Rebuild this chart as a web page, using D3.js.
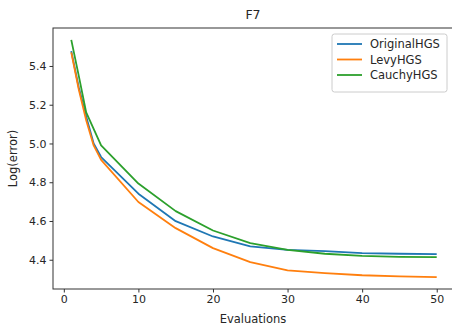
<!DOCTYPE html>
<html>
<head>
<meta charset="utf-8">
<script src="https://cdn.jsdelivr.net/npm/d3@7"></script>
<style>
  body { margin: 0; background: #fff; }
  svg { font-family: "DejaVu Sans", sans-serif; }
</style>
</head>
<body>
<div id="vis"></div>
<script>
const evals = [1, 2, 3, 4, 5, 10, 15, 20, 25, 30, 35, 40, 45, 50];
const originalHGS = [5.477, 5.29, 5.14, 5.0, 4.93, 4.741, 4.599, 4.52, 4.469, 4.451, 4.444, 4.434, 4.431, 4.429];
const levyHGS     = [5.47, 5.28, 5.12, 4.99, 4.915, 4.698, 4.563, 4.46, 4.388, 4.345, 4.331, 4.32, 4.314, 4.31];
const cauchyHGS   = [5.535, 5.35, 5.16, 5.075, 4.99, 4.793, 4.651, 4.551, 4.486, 4.451, 4.431, 4.42, 4.415, 4.413];
const seriesNames = ["OriginalHGS", "LevyHGS", "CauchyHGS"];
const colors = ["#1f77b4", "#ff7f0e", "#2ca02c"];
const xTicks = [0, 10, 20, 30, 40, 50];
const yTicks = [4.4, 4.6, 4.8, 5.0, 5.2, 5.4];

const series = [originalHGS, levyHGS, cauchyHGS].map((vals, i) => ({
  name: seriesNames[i],
  color: colors[i],
  values: evals.map((e, j) => ({ x: e, y: vals[j] }))
}));

const W = 452, H = 328;
const margin = { top: 28, right: 0, bottom: 39, left: 53 };
const width = 455 - margin.left;
const height = H - margin.top - margin.bottom;

const svg = d3.select("#vis").append("svg")
  .attr("width", W)
  .attr("height", H);

const g = svg.append("g")
  .attr("transform", `translate(${margin.left},${margin.top})`);

const x = d3.scaleLinear().domain([-1.45, 52.45]).range([0, width]);
const y = d3.scaleLinear().domain([4.249, 5.596]).range([height, 0]);

const line = d3.line()
  .x(d => x(d.x))
  .y(d => y(d.y));

series.forEach(s => {
  g.append("path")
    .datum(s.values)
    .attr("fill", "none")
    .attr("stroke", s.color)
    .attr("stroke-width", 1.8)
    .attr("stroke-linejoin", "round")
    .attr("d", line);
});

// frame
g.append("rect")
  .attr("x", 0).attr("y", 0)
  .attr("width", width).attr("height", height)
  .attr("fill", "none")
  .attr("stroke", "#333")
  .attr("stroke-width", 1);

const xAxis = g.append("g")
  .attr("transform", `translate(0,${height})`)
  .call(d3.axisBottom(x).tickValues(xTicks).tickSize(3.5).tickPadding(3).tickFormat(d3.format("d")));
const yAxis = g.append("g")
  .call(d3.axisLeft(y).tickValues(yTicks).tickSize(3.5).tickPadding(3).tickFormat(d3.format(".1f")));

[xAxis, yAxis].forEach(a => {
  a.select(".domain").remove();
  a.selectAll("line").attr("stroke", "#333");
  a.selectAll("text").attr("fill", "#262626").style("font-size", "11px").style("font-family", "DejaVu Sans");
});

svg.append("text")
  .attr("x", margin.left + width / 2 - 1)
  .attr("y", 19)
  .attr("text-anchor", "middle")
  .attr("fill", "#262626")
  .style("font-size", "12.5px")
  .text("F7");

svg.append("text")
  .attr("x", margin.left + width / 2 - 1)
  .attr("y", 323)
  .attr("text-anchor", "middle")
  .attr("fill", "#262626")
  .style("font-size", "11.5px")
  .text("Evaluations");

svg.append("text")
  .attr("transform", `translate(17,${margin.top + height / 2}) rotate(-90)`)
  .attr("text-anchor", "middle")
  .attr("fill", "#262626")
  .style("font-size", "11.5px")
  .text("Log(error)");

// legend
const legend = svg.append("g").attr("transform", "translate(332,34)");
legend.append("rect")
  .attr("width", 115).attr("height", 58)
  .attr("rx", 2.5)
  .attr("fill", "#fff")
  .attr("fill-opacity", 0.8)
  .attr("stroke", "#ccc")
  .attr("stroke-width", 1);

series.forEach((s, i) => {
  const row = legend.append("g").attr("transform", `translate(0,${10 + i * 15.5})`);
  row.append("line")
    .attr("x1", 5).attr("x2", 30)
    .attr("stroke", s.color)
    .attr("stroke-width", 1.8);
  row.append("text")
    .attr("x", 38)
    .attr("dy", "0.35em")
    .attr("fill", "#262626")
    .style("font-size", "11.5px")
    .text(s.name);
});
</script>
</body>
</html>
